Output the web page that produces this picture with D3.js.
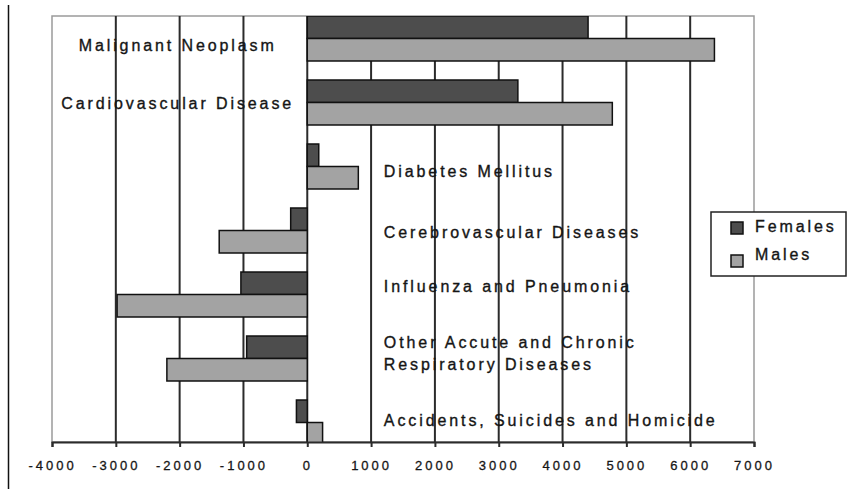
<!DOCTYPE html>
<html>
<head>
<meta charset="utf-8">
<script src="https://cdn.jsdelivr.net/npm/d3@7"></script>
<style>
  html, body { margin: 0; padding: 0; background: #fff; }
  svg { display: block; }
  text { font-family: "Liberation Sans", Arial, sans-serif; fill: #151515; }
</style>
</head>
<body>
<svg id="chart" width="849" height="489"></svg>
<script>
// ---- data ----
const categories = [
  "Malignant Neoplasm",
  "Cardiovascular Disease",
  "Diabetes Mellitus",
  "Cerebrovascular Diseases",
  "Influenza and Pneumonia",
  "Other Accute and Chronic\nRespiratory Diseases",
  "Accidents, Suicides and Homicide"
];
const females = [4400, 3300, 180, -260, -1040, -950, -170];
const males   = [6380, 4780, 800, -1380, -2980, -2200, 240];
const seriesNames = ["Females", "Males"];
const xTicks = [-4000, -3000, -2000, -1000, 0, 1000, 2000, 3000, 4000, 5000, 6000, 7000];

// ---- layout (not data) ----
const labelSide = ["left", "left", "right", "right", "right", "right", "right"];
const labelDy = [7, 1, 5, 2, -8, -5, -2];
const colors = { Females: "#4d4d4d", Males: "#a3a3a3" };

const svg = d3.select("#chart");
const plot = { left: 52, right: 754, top: 16, bottom: 442 };

const x = d3.scaleLinear().domain([-4000, 7000]).range([plot.left, plot.right]);
const y = d3.scaleBand().domain(categories).range([plot.top, 445]).paddingInner(0.297).paddingOuter(0);
const ySub = d3.scaleBand().domain(seriesNames).range([0, y.bandwidth()]);

// outer left rule
svg.append("line").attr("x1", 8.5).attr("x2", 8.5).attr("y1", 5).attr("y2", 489)
  .attr("stroke", "#111").attr("stroke-width", 1.5);

// plot border (gray)
svg.append("rect").attr("x", plot.left).attr("y", plot.top)
  .attr("width", plot.right - plot.left).attr("height", plot.bottom - plot.top)
  .attr("fill", "none").attr("stroke", "#9a9a9a").attr("stroke-width", 1.5);

// gridlines
svg.append("g").selectAll("line")
  .data(xTicks.filter(t => t > -4000 && t < 7000))
  .join("line")
  .attr("x1", d => x(d)).attr("x2", d => x(d))
  .attr("y1", plot.top).attr("y2", plot.bottom)
  .attr("stroke", "#2b2b2b").attr("stroke-width", 2);

// clip
svg.append("clipPath").attr("id", "clip").append("rect")
  .attr("x", plot.left).attr("y", plot.top)
  .attr("width", plot.right - plot.left).attr("height", plot.bottom - plot.top);

const rows = categories.map((c, i) => ({ c, vals: [
  { s: "Females", v: females[i] }, { s: "Males", v: males[i] } ] }));

const bars = svg.append("g").attr("clip-path", "url(#clip)");
rows.forEach(r => {
  bars.selectAll(null).data(r.vals).join("rect")
    .attr("x", d => x(Math.min(0, d.v)))
    .attr("width", d => Math.abs(x(d.v) - x(0)))
    .attr("y", d => y(r.c) + ySub(d.s))
    .attr("height", ySub.bandwidth())
    .attr("fill", d => colors[d.s])
    .attr("stroke", "#111").attr("stroke-width", 1.5);
});

// category labels
const labG = svg.append("g").style("font-size", "16px").style("letter-spacing", "2.9px")
  .style("stroke", "#151515").style("stroke-width", "0.35px");
categories.forEach((c, i) => {
  const lines = c.split("\n");
  const cy = y(c) + y.bandwidth() / 2 + labelDy[i];
  const side = labelSide[i];
  const tx = side === "left" ? x(-2030) : x(1200);
  const lh = 22;
  const t = labG.append("text")
    .attr("x", tx)
    .attr("text-anchor", side === "left" ? "middle" : "start");
  lines.forEach((ln, k) => {
    t.append("tspan").attr("x", tx)
      .attr("y", cy + (k - (lines.length - 1) / 2) * lh)
      .attr("dy", "0.35em").text(ln);
  });
});

// x axis
const axis = d3.axisBottom(x).tickValues(xTicks).tickSize(5).tickPadding(14).tickFormat(d3.format("d"));
const ax = svg.append("g").attr("transform", `translate(0,${plot.bottom})`).call(axis);
ax.select(".domain").attr("stroke", "#2b2b2b").attr("stroke-width", 2);
ax.selectAll(".tick line").attr("stroke", "#2b2b2b").attr("stroke-width", 2);
ax.selectAll(".tick text")
  .style("font-family", '"Liberation Sans", Arial, sans-serif')
  .style("font-size", "13px").style("letter-spacing", "3px")
  .style("stroke", "#151515").style("stroke-width", "0.3px")
  .attr("fill", "#151515")
  .text(d => (d < 0 ? "-" : "") + Math.abs(d));

// legend
const lg = svg.append("g");
lg.append("rect").attr("x", 711).attr("y", 212).attr("width", 135).attr("height", 64)
  .attr("fill", "#fff").attr("stroke", "#222").attr("stroke-width", 1.5);
const legendRows = [{ s: "Females", sy: 222, ty: 226 }, { s: "Males", sy: 255, ty: 254 }];
legendRows.forEach(r => {
  lg.append("rect").attr("x", 731).attr("y", r.sy).attr("width", 12).attr("height", 12)
    .attr("fill", colors[r.s]).attr("stroke", "#111").attr("stroke-width", 1.5);
  lg.append("text").attr("x", 755).attr("y", r.ty).attr("dy", "0.35em")
    .style("font-size", "16px").style("letter-spacing", "2.9px")
    .style("stroke", "#151515").style("stroke-width", "0.35px").text(r.s);
});
</script>
</body>
</html>
